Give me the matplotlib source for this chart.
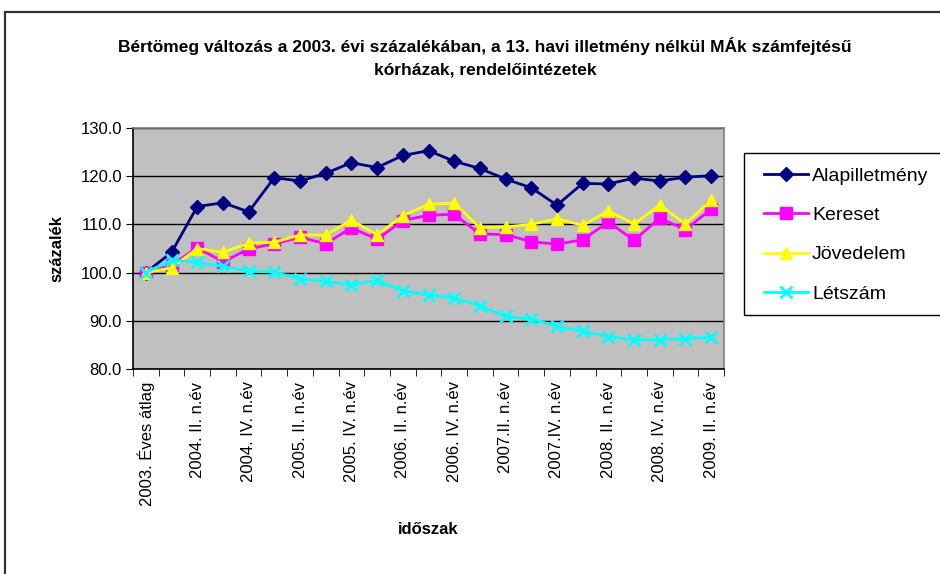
import matplotlib.pyplot as plt
from matplotlib.patches import Rectangle

# periods (23 quarters, every second one labelled)
periods = [
    "2003. Éves átlag", "2004. I. n.év", "2004. II. n.év", "2004. III. n.év",
    "2004. IV. n.év", "2005. I. n.év", "2005. II. n.év", "2005. III. n.év",
    "2005. IV. n.év", "2006. I. n.év", "2006. II. n.év", "2006. III. n.év",
    "2006. IV. n.év", "2007.I. n.év", "2007.II. n.év", "2007.III. n.év",
    "2007.IV. n.év", "2008. I. n.év", "2008. II. n.év", "2008. III. n.év",
    "2008. IV. n.év", "2009. I. n.év", "2009. II. n.év",
]

alapilletmeny = [100.0, 104.2, 113.7, 114.5, 112.6, 119.7, 119.0, 120.6, 122.8, 121.8,
                 124.3, 125.3, 123.1, 121.6, 119.4, 117.6, 114.0, 118.5, 118.4, 119.6,
                 119.0, 119.8, 120.1]
kereset = [100.0, 101.5, 105.2, 102.2, 104.9, 106.0, 107.3, 106.0, 109.3, 106.9,
           110.8, 111.9, 112.1, 108.0, 107.9, 106.4, 105.9, 106.8, 110.5, 106.7,
           111.3, 108.9, 113.2]
jovedelem = [100.0, 101.0, 105.0, 104.2, 106.1, 106.3, 107.8, 107.8, 110.9, 107.8,
             111.8, 114.2, 114.4, 109.3, 109.5, 110.0, 111.2, 109.8, 112.8, 110.1,
             114.0, 110.1, 115.0]
letszam = [100.0, 102.6, 102.1, 101.3, 100.3, 100.1, 98.7, 98.2, 97.4, 98.4,
           96.2, 95.4, 94.7, 93.1, 90.9, 90.4, 88.9, 87.8, 86.7, 86.0,
           86.1, 86.3, 86.6]

plt.rcParams["font.family"] = ["Liberation Sans", "DejaVu Sans"]

W, H = 940, 574
fig = plt.figure(figsize=(W / 100, H / 100), dpi=100)
# chart area border (runs past the right and bottom edges of the image)
fig.patches.append(Rectangle((5 / W, -0.05), 1.1, 1 - 12 / H + 0.05, transform=fig.transFigure,
                             fill=False, edgecolor="#333333", linewidth=1.6))
# legend frame, also cut off by the right edge
fig.patches.append(Rectangle((744 / W, 1 - 315 / H), 0.4, (315 - 153) / H,
                             transform=fig.transFigure, fill=False,
                             edgecolor="black", linewidth=1))

ax = fig.add_axes([133 / W, 1 - 369 / H, (724 - 133) / W, (369 - 128) / H])
ax.set_facecolor("#C0C0C0")
for s in ax.spines.values():
    s.set_color("#808080")
    s.set_linewidth(1.2)
ax.spines["left"].set_color("black")
ax.spines["bottom"].set_color("black")

x = list(range(len(periods)))
ax.plot(x, alapilletmeny, color="#000080", lw=2, marker="D", ms=7, label="Alapilletmény", zorder=3)
ax.plot(x, kereset, color="#FF00FF", lw=2, marker="s", ms=8.5, label="Kereset", zorder=4)
ax.plot(x, jovedelem, color="#FFFF00", lw=2, marker="^", ms=9, label="Jövedelem", zorder=5)
ax.plot(x, letszam, color="#00FFFF", lw=2, marker="x", ms=8, mew=2, label="Létszám", zorder=6)

yt = [80, 90, 100, 110, 120, 130]
ax.set_ylim(80, 130)
ax.set_yticks(yt)
ax.set_yticklabels([f"{v:.1f}" for v in yt], fontsize=12)
ax.yaxis.grid(True, color="black", lw=1)
ax.set_axisbelow(True)
ax.tick_params(axis="y", length=5, direction="out", pad=3)

ax.set_xlim(-0.5, len(periods) - 0.5)
ax.set_xticks(x[::2])
ax.set_xticklabels(periods[::2], rotation=90, fontsize=12, va="top", ha="center")
ax.set_xticks([i - 0.5 for i in range(len(periods) + 1)], minor=True)
ax.tick_params(axis="x", which="major", length=0, pad=9)
ax.tick_params(axis="x", which="minor", length=5, direction="out")

fig.text(57 / W, 1 - 249 / H, "százalék", fontsize=12, fontweight="bold",
         rotation=90, ha="center", va="center")
fig.text(428 / W, 1 - 530 / H, "időszak", fontsize=12,
         fontweight="bold", ha="center", va="center")

fig.text(485 / W, 1 - 46 / H,
         "Bértömeg változás a 2003. évi százalékában, a 13. havi illetmény nélkül MÁk számfejtésű",
         fontsize=12.5, fontweight="bold", ha="center", va="center")
fig.text(485 / W, 1 - 70 / H, "kórházak, rendelőintézetek",
         fontsize=12.5, fontweight="bold", ha="center", va="center")

leg = fig.legend(loc="upper left", bbox_to_anchor=(764 / W, 1 - 167 / H),
                 fontsize=14, frameon=False, labelspacing=1.12,
                 handlelength=2.27, borderpad=0, handletextpad=0.2, borderaxespad=0)

fig.savefig("out.png", dpi=100)
